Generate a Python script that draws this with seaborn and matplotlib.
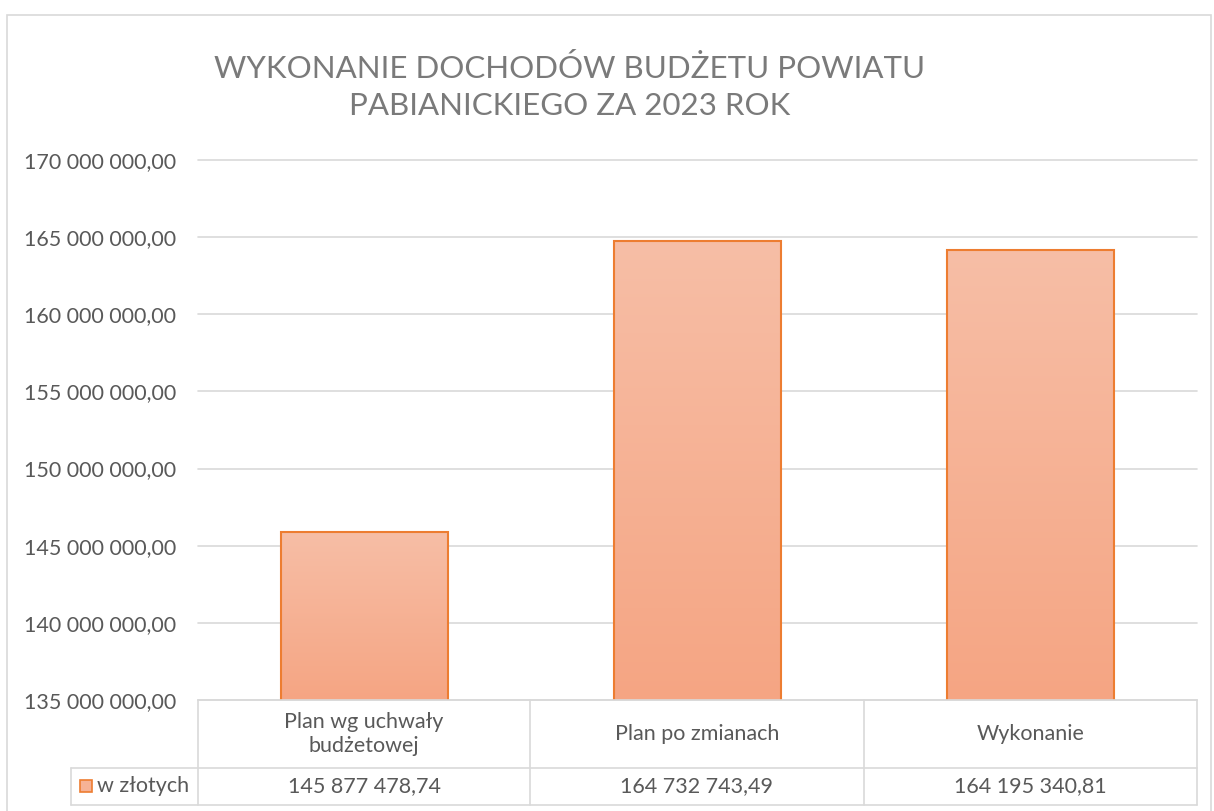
import numpy as np
import pandas as pd
import seaborn as sns
import matplotlib.pyplot as plt
from matplotlib.colors import LinearSegmentedColormap
from matplotlib.patches import Rectangle
from matplotlib.lines import Line2D

categories = ["Plan wg uchwały\nbudżetowej", "Plan po zmianach", "Wykonanie"]
values = [145877478.74, 164732743.49, 164195340.81]
series_name = "w złotych"
title = "WYKONANIE DOCHODÓW BUDŻETU POWIATU\nPABIANICKIEGO ZA 2023 ROK"
y_ticks = [135e6, 140e6, 145e6, 150e6, 155e6, 160e6, 165e6, 170e6]


def pl_number(v):
    return f"{v:,.2f}".replace(",", " ").replace(".", ",")


sns.set_theme(style="white")
plt.rcParams['font.family'] = ['Lato', 'DejaVu Sans']

text_grey = "#595959"
grid_grey = "#D9D9D9"
edge_orange = "#ED7D31"
fs = 15.5

W, H = 1214, 811
fig = plt.figure(figsize=(W / 100, H / 100), dpi=100)

# outer chart border
fig.patches.append(Rectangle((7 / W, -0.01), (1211 - 7) / W, 1 - 15 / H + 0.01,
                             transform=fig.transFigure, fill=False,
                             edgecolor=grid_grey, linewidth=1.2))

ax_l, ax_r, ax_t, ax_b = 198, 1197, 160, 700
ax = fig.add_axes([ax_l / W, 1 - ax_b / H, (ax_r - ax_l) / W, (ax_b - ax_t) / H])

df = pd.DataFrame({"kat": categories, "val": values})
sns.barplot(data=df, x="kat", y="val", ax=ax, width=0.5,
            facecolor="none", edgecolor=edge_orange, linewidth=1.5, zorder=3)

cmap = LinearSegmentedColormap.from_list("grad", ["#F5A583", "#F7BEA6"])
grad = np.linspace(0, 1, 256).reshape(-1, 1)
for p in ax.patches:
    x0 = p.get_x()
    x1 = x0 + p.get_width()
    ax.imshow(grad, cmap=cmap, origin="lower", aspect="auto",
              extent=[x0, x1, y_ticks[0], p.get_height()], zorder=2)

ax.set_xlim(-0.5, 2.5)
ax.set_ylim(y_ticks[0], y_ticks[-1])
ax.set_yticks(y_ticks)
ax.set_yticklabels([pl_number(t) for t in y_ticks], color=text_grey, fontsize=fs)
ax.tick_params(axis="y", length=0, pad=16)
ax.set_xticks([])
ax.set_xlabel("")
ax.set_ylabel("")
ax.yaxis.grid(True, color=grid_grey, linewidth=1.2, zorder=0)
ax.set_axisbelow(True)
for gl in ax.get_ygridlines():
    gl.set_clip_on(False)
for s in ax.spines.values():
    s.set_visible(False)

# data table below the axis
def fx(px):
    return px / W


def fy(py):
    return 1 - py / H


row_top, row_mid, row_bot = 700, 768, 805
col_edges = [198, 530, 864, 1197]
key_left = 71
lines = [
    ((col_edges[0], col_edges[-1]), (row_top, row_top)),
    ((key_left, col_edges[-1]), (row_mid, row_mid)),
    ((key_left, col_edges[-1]), (row_bot, row_bot)),
    ((key_left, key_left), (row_mid, row_bot)),
]
for c in col_edges:
    lines.append(((c, c), (row_top, row_bot)))
for xs, ys in lines:
    fig.add_artist(Line2D([fx(xs[0]), fx(xs[1])], [fy(ys[0]), fy(ys[1])],
                          transform=fig.transFigure, color=grid_grey, linewidth=1.2))

for i, (cat, val) in enumerate(zip(categories, values)):
    cx = (col_edges[i] + col_edges[i + 1]) / 2
    fig.text(fx(cx), fy((row_top + row_mid) / 2), cat, ha="center", va="center",
             color=text_grey, fontsize=fs, linespacing=1.2)
    fig.text(fx(cx), fy((row_mid + row_bot) / 2), pl_number(val), ha="center",
             va="center", color=text_grey, fontsize=fs)

fig.patches.append(Rectangle((fx(80), fy(792)), 12 / W, 12 / H, transform=fig.transFigure,
                             facecolor="#F6B296", edgecolor=edge_orange, linewidth=1.2))
fig.text(fx(97), fy((row_mid + row_bot) / 2), series_name, ha="left", va="center",
         color=text_grey, fontsize=fs)

fig.text(fx(570), fy(87), title, ha="center", va="center", color="#7A7A7A",
         fontsize=22.5, linespacing=1.38)

fig.savefig("out.png", dpi=100)
